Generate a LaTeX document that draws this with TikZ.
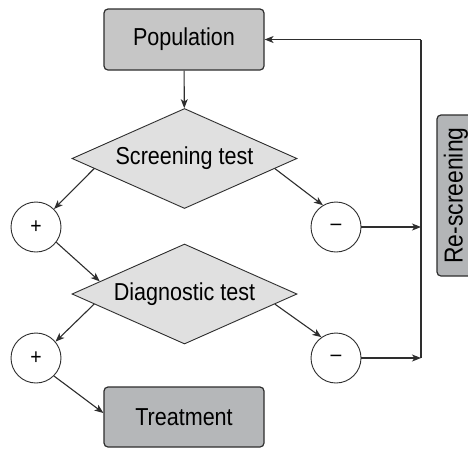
\documentclass[tikz,border=0pt]{standalone}
\usepackage{fontspec}
\setmainfont{Liberation Sans}[FakeStretch=0.88]
\usetikzlibrary{shapes.geometric,arrows.meta,calc}
\definecolor{linec}{HTML}{2E2E2E}
\definecolor{popfill}{HTML}{C6C6C6}
\definecolor{treatfill}{HTML}{B5B7B9}
\definecolor{refill}{HTML}{B3B5B7}
\definecolor{diafill}{HTML}{E0E0E0}
\tikzset{
  box/.style={draw=linec, line width=1.2pt, rounded corners=4pt, minimum width=160pt, minimum height=61pt, inner sep=0pt, font=\fontsize{24.5}{28}\selectfont},
  decision/.style={diamond, draw=linec, line width=0.9pt, fill=diafill, aspect=2.25, minimum width=225pt, minimum height=100pt, inner sep=0pt, font=\fontsize{24.5}{28}\selectfont},
  sign/.style={circle, draw=linec, line width=0.9pt, fill=white, minimum size=50pt, inner sep=0pt, font=\fontsize{22}{26}\selectfont},
  conn/.style={draw=linec, line width=1.1pt, -{Stealth[length=9pt,width=7pt,inset=2.5pt]}},
  plain/.style={draw=linec, line width=1.1pt}
}
\begin{document}
\begin{tikzpicture}[x=1pt,y=-1pt]
\clip (0,0) rectangle (468,448);
\fill[white] (0,0) rectangle (468,448);
\node[box, fill=popfill] (pop) at (184,39.5) {Population};
\node[decision] (scr) at (184.5,158.5) {Screening test};
\node[sign] (p1) at (36,227) {+};
\node[sign] (m1) at (336,227) {–};
\node[decision] (dia) at (184.5,294) {Diagnostic test};
\node[sign] (p2) at (36,358) {+};
\node[sign] (m2) at (336,358) {–};
\node[box, fill=treatfill, minimum height=60pt] (tre) at (184,417) {Treatment};
\node[draw=linec, line width=1.2pt, rounded corners=4pt, fill=refill, rotate=90, minimum width=161pt, minimum height=38pt, inner sep=0pt, font=\fontsize{26}{30}\selectfont] (res) at (456,195.5) {Re-screening};
\coordinate (j1) at (421,227);
\coordinate (j2) at (421,358);
\coordinate (top) at (421,39.5);
\draw[conn] (pop) -- (scr);
\draw[conn] ($(scr.west)!0.2!(scr.south)$) -- (p1.45);
\draw[conn] ($(scr.east)!0.2!(scr.south)$) -- (m1.121);
\draw[conn] (p1.-37) -- ($(dia.west)!0.25!(dia.north)$);
\draw[conn] ($(dia.west)!0.2!(dia.south)$) -- (p2.40);
\draw[conn] ($(dia.east)!0.2!(dia.south)$) -- (m2.125);
\draw[conn] (p2.-45) -- ([yshift=4pt]tre.west);
\draw[conn] (m1) -- (j1);
\draw[conn] (m2) -- (j2);
\draw[plain] (j2) -- (top);
\draw[conn] (top) -- (pop.east);
\end{tikzpicture}
\end{document}
